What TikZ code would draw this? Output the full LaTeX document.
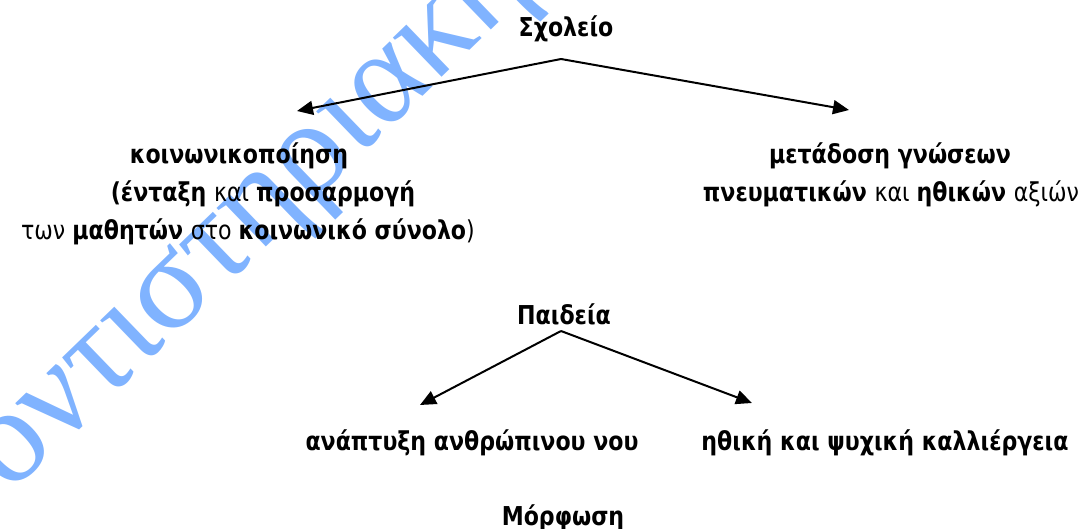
\documentclass[tikz,border=0pt]{standalone}
\usepackage{fontspec}
\setmainfont[FakeStretch=0.85]{DejaVu Sans}
\newfontfamily\wmfont{Liberation Serif}
\usetikzlibrary{arrows.meta}
\definecolor{wmblue}{RGB}{128,179,255}
\tikzset{
  lbl/.style={inner sep=0pt, anchor=base, font=\fontsize{26}{26}\selectfont},
  conn/.style={line width=2pt, -{Triangle[length=16pt,width=14pt]}},
  wm/.style={inner sep=0pt, anchor=base west, text=wmblue, font=\wmfont\fontsize{135}{135}\selectfont, rotate=44}
}
\begin{document}
\begin{tikzpicture}[x=1pt,y=-1pt]
\useasboundingbox (0,0) rectangle (1087,529);
\clip (0,0) rectangle (1087,529);
\node[wm] (wmk) at (-95,596) {φροντιστηριακή};
% top tree
\node[lbl] (sch) at (566,37) {\bfseries Σχολείο};
\coordinate (a1) at (561,59);
\coordinate (t1) at (297,111);
\coordinate (t2) at (849,110);
\draw[conn] (a1) -- (t1);
\draw[conn] (a1) -- (t2);
\node[lbl] (k1) at (239,164) {\bfseries κοινωνικοποίηση};
\node[lbl] (k2) at (263,202) {\bfseries (ένταξη \mdseries και \bfseries προσαρμογή};
\node[lbl] (k3) at (248,240) {των \bfseries μαθητών \mdseries στο \bfseries κοινωνικό σύνολο\mdseries)};
\node[lbl] (m1) at (890,164) {\bfseries μετάδοση γνώσεων};
\node[lbl] (m2) at (891,202) {\bfseries πνευματικών \mdseries και \bfseries ηθικών \mdseries αξιών};
% bottom tree
\node[lbl] (pai) at (564,325) {\bfseries Παιδεία};
\coordinate (a2) at (561,331);
\coordinate (t3) at (420,405);
\coordinate (t4) at (752,403);
\draw[conn] (a2) -- (t3);
\draw[conn] (a2) -- (t4);
\node[lbl] (an) at (472,450) {\bfseries ανάπτυξη ανθρώπινου νου};
\node[lbl] (ik) at (885,450) {\bfseries ηθική και ψυχική καλλιέργεια};
\node[lbl] (mor) at (563,525) {\bfseries Μόρφωση};
\end{tikzpicture}
\end{document}
